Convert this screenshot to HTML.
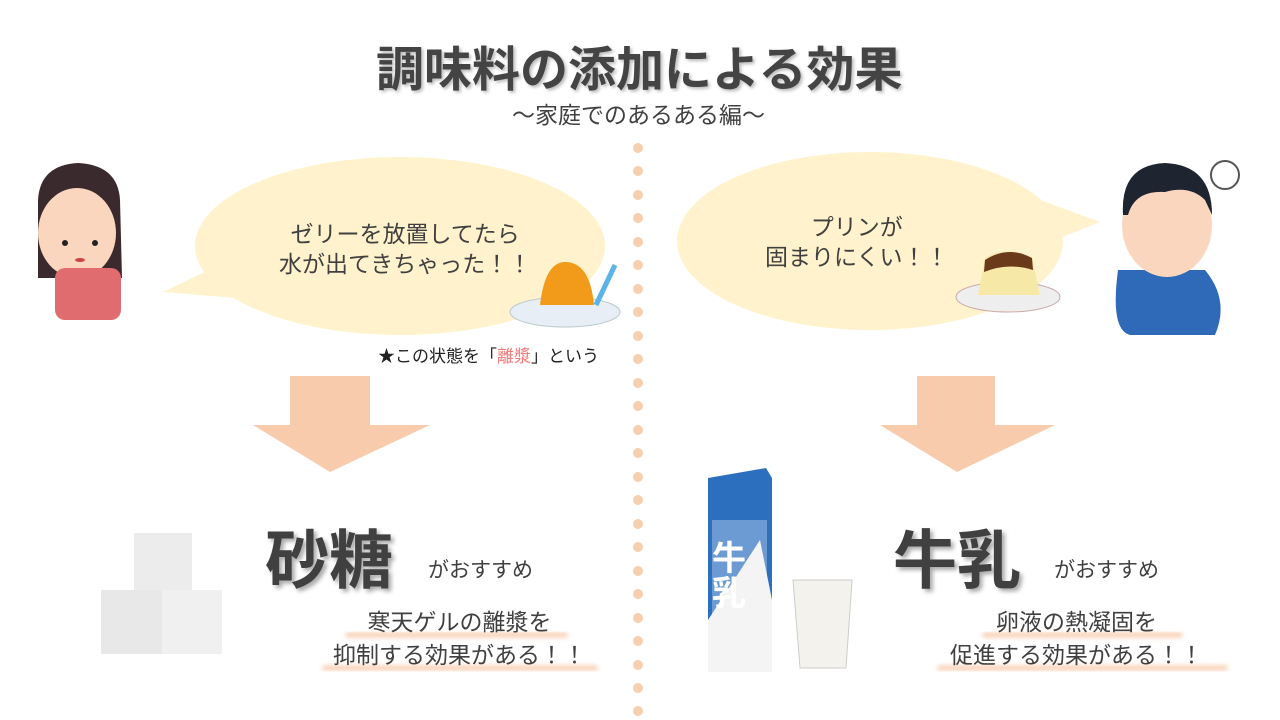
<!DOCTYPE html>
<html><head><meta charset="utf-8"><style>
body{margin:0;width:1280px;height:720px;background:#fff;overflow:hidden;font-family:"Liberation Sans","Noto Sans CJK JP",sans-serif;color:#404040}
.t{position:absolute;white-space:nowrap}
</style></head><body>
<svg width="1280" height="720" style="position:absolute;left:0;top:0">
<defs><filter id="b"><feGaussianBlur stdDeviation="2"/></filter></defs>
<g fill="#f8cfae">
<circle cx="638" cy="148" r="5"/><circle cx="638" cy="171" r="5"/><circle cx="638" cy="195" r="5"/><circle cx="638" cy="218" r="5"/><circle cx="638" cy="242" r="5"/><circle cx="638" cy="265" r="5"/><circle cx="638" cy="289" r="5"/><circle cx="638" cy="312" r="5"/><circle cx="638" cy="336" r="5"/><circle cx="638" cy="359" r="5"/><circle cx="638" cy="383" r="5"/><circle cx="638" cy="406" r="5"/><circle cx="638" cy="430" r="5"/><circle cx="638" cy="453" r="5"/><circle cx="638" cy="477" r="5"/><circle cx="638" cy="500" r="5"/><circle cx="638" cy="524" r="5"/><circle cx="638" cy="547" r="5"/><circle cx="638" cy="571" r="5"/><circle cx="638" cy="594" r="5"/><circle cx="638" cy="618" r="5"/><circle cx="638" cy="641" r="5"/><circle cx="638" cy="665" r="5"/><circle cx="638" cy="688" r="5"/><circle cx="638" cy="711" r="5"/>
</g>
<g fill="#fff2cc">
<ellipse cx="400" cy="246" rx="205" ry="89"/><polygon points="163,292 240,255 260,300"/>
<ellipse cx="870" cy="241" rx="193" ry="89"/><polygon points="1100,222 1040,200 1030,250"/>
</g>
<g fill="#f8cbad">
<polygon points="290,376 370,376 370,425 430,425 330,472 253,425 290,425"/>
<polygon points="917,376 995,376 995,425 1055,425 957,472 880,425 917,425"/>
</g>
<g stroke="#f8cbad" stroke-width="6" filter="url(#b)" stroke-linecap="round" opacity="0.8">
<line x1="348" y1="635" x2="565" y2="635"/><line x1="325" y1="668" x2="595" y2="668"/>
<line x1="985" y1="635" x2="1180" y2="635"/><line x1="940" y1="668" x2="1225" y2="668"/>
</g>
<path d="M38 200 Q40 165 78 163 Q118 165 120 200 L122 278 L38 278 Z" fill="#3a2a2e"/>
<ellipse cx="77" cy="233" rx="39" ry="45" fill="#fbd6bf"/>
<path d="M40 210 Q55 175 90 172 Q115 180 118 215 L118 190 Q100 162 70 165 Q42 175 40 210Z" fill="#3a2a2e"/>
<rect x="55" y="268" width="66" height="52" rx="10" fill="#e06c70"/>
<circle cx="65" cy="243" r="3" fill="#222"/><circle cx="95" cy="243" r="3" fill="#222"/>
<ellipse cx="80" cy="260" rx="5" ry="2" fill="#c44"/>
<ellipse cx="565" cy="312" rx="55" ry="15" fill="#e8eef5" stroke="#bcc" />
<path d="M540 305 Q545 262 565 262 Q590 262 594 305 Z" fill="#f29a1a"/>
<line x1="596" y1="305" x2="615" y2="265" stroke="#5bb4e8" stroke-width="5"/>
<ellipse cx="1008" cy="297" rx="52" ry="15" fill="#eee" stroke="#caa"/>
<path d="M978 295 L985 258 Q1008 245 1032 258 L1040 295 Z" fill="#f6e9a8"/>
<path d="M985 260 Q1008 245 1032 258 L1033 270 Q1008 262 984 272Z" fill="#6b3a1a"/>
<path d="M1118 270 Q1110 330 1130 335 L1215 335 Q1230 300 1205 270 Z" fill="#2e6ab8"/>
<ellipse cx="1167" cy="225" rx="45" ry="52" fill="#fbd6bf"/>
<path d="M1123 215 Q1120 165 1165 163 Q1212 165 1212 215 L1205 200 Q1190 185 1165 192 Q1135 190 1128 215Z" fill="#1e2430"/>
<circle cx="1225" cy="175" r="14" fill="none" stroke="#555" stroke-width="2"/>
<rect x="134" y="533" width="58" height="60" fill="#ececec"/>
<rect x="101" y="590" width="62" height="64" fill="#e8e8e8"/>
<rect x="162" y="590" width="60" height="64" fill="#f0f0f0"/>
<path d="M708 478 L766 468 L772 478 L772 672 L708 672 Z" fill="#2d6fbf"/>
<rect x="712" y="520" width="55" height="150" fill="#fff" opacity="0.3"/>
<path d="M760 540 L772 600 L772 672 L708 672 L708 620 Z" fill="#f4f4f4"/>
<text x="712" y="570" font-size="34" font-weight="bold" fill="#fff" font-family="Liberation Sans,Noto Sans CJK JP,sans-serif">牛</text>
<text x="712" y="605" font-size="34" font-weight="bold" fill="#fff" font-family="Liberation Sans,Noto Sans CJK JP,sans-serif">乳</text>
<path d="M793 580 L852 580 L846 668 L800 668 Z" fill="#f4f2ec" stroke="#ccc"/>
</svg>
<div class="t" style="left:376px;top:30px;font-size:48px;font-weight:bold;color:#444;text-shadow:2px 2px 3px #bbb">調味料の添加による効果</div>
<div class="t" style="left:512px;top:96px;font-size:23px">～家庭でのあるある編～</div>
<div class="t" style="left:279px;top:219px;font-size:23px;line-height:30px;text-align:center">ゼリーを放置してたら<br>水が出てきちゃった！！</div>
<div class="t" style="left:378px;top:342px;font-size:17px;color:#222">★この状態を「<span style="color:#f47a7a">離漿</span>」という</div>
<div class="t" style="left:765px;top:212px;font-size:23px;line-height:30px;text-align:center">プリンが<br>固まりにくい！！</div>
<div class="t" style="left:265px;top:510px;font-size:64px;font-weight:bold;color:#404040;text-shadow:3px 3px 4px #aaa">砂糖</div>
<div class="t" style="left:428px;top:554px;font-size:21px">がおすすめ</div>
<div class="t" style="left:333px;top:606px;font-size:23px;line-height:33px;text-align:center">寒天ゲルの離漿を<br>抑制する効果がある！！</div>
<div class="t" style="left:893px;top:510px;font-size:64px;font-weight:bold;color:#404040;text-shadow:3px 3px 4px #aaa">牛乳</div>
<div class="t" style="left:1054px;top:554px;font-size:21px">がおすすめ</div>
<div class="t" style="left:950px;top:606px;font-size:23px;line-height:33px;text-align:center">卵液の熱凝固を<br>促進する効果がある！！</div>
</body></html>
